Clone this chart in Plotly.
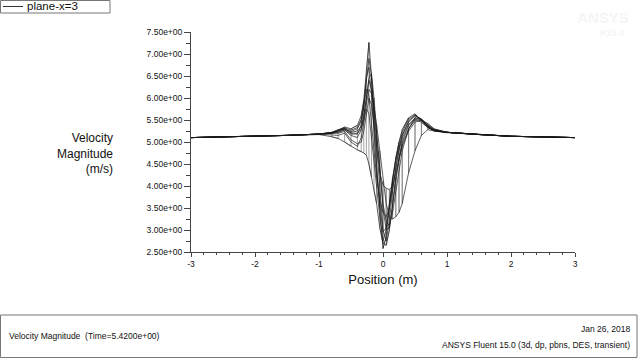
import plotly.graph_objects as go

# ---- data ----
POSITION = [-3, -2, -1.5, -1, -0.8, -0.7, -0.6, -0.5, -0.4, -0.34, -0.3, -0.26, -0.22,
            -0.18, -0.14, -0.1, -0.05, 0, 0.05, 0.1, 0.15, 0.2, 0.25, 0.3, 0.4, 0.5,
            0.6, 0.7, 0.8, 1.0, 1.5, 2, 3]

VEL_1 = [5.10, 5.13, 5.15, 5.18, 5.22, 5.27, 5.34, 5.30, 5.38, 5.60, 5.95, 6.60, 7.26,
         6.50, 5.40, 4.50, 3.50, 2.58, 2.85, 3.50, 4.10, 4.60, 5.00, 5.28, 5.55, 5.64,
         5.48, 5.33, 5.26, 5.22, 5.17, 5.13, 5.10]
VEL_2 = [5.10, 5.13, 5.15, 5.18, 5.21, 5.25, 5.30, 5.24, 5.30, 5.48, 5.80, 6.40, 6.90,
         6.50, 5.70, 4.90, 3.90, 3.00, 2.75, 3.20, 3.90, 4.45, 4.85, 5.15, 5.48, 5.60,
         5.52, 5.36, 5.27, 5.22, 5.17, 5.13, 5.10]
VEL_3 = [5.10, 5.13, 5.15, 5.18, 5.20, 5.22, 5.27, 5.15, 5.10, 5.28, 5.60, 6.05, 6.40,
         6.20, 5.70, 5.20, 4.40, 3.50, 3.00, 3.05, 3.55, 4.15, 4.65, 5.00, 5.38, 5.55,
         5.52, 5.40, 5.29, 5.22, 5.17, 5.13, 5.10]
VEL_4 = [5.10, 5.13, 5.15, 5.18, 5.19, 5.20, 5.24, 5.05, 4.96, 5.00, 5.25, 5.65, 6.00,
         5.85, 5.40, 4.90, 4.30, 4.02, 3.95, 3.92, 4.00, 4.30, 4.60, 4.90, 5.25, 5.45,
         5.50, 5.42, 5.30, 5.22, 5.17, 5.13, 5.10]
VEL_5 = [5.10, 5.13, 5.15, 5.18, 5.17, 5.15, 5.20, 5.00, 4.90, 5.10, 5.45, 5.75, 5.65,
         5.10, 4.50, 4.00, 3.30, 2.75, 3.00, 3.60, 4.20, 4.60, 4.90, 5.15, 5.45, 5.60,
         5.52, 5.36, 5.26, 5.22, 5.17, 5.13, 5.10]
VEL_6 = [5.10, 5.13, 5.15, 5.18, 5.22, 5.28, 5.31, 5.20, 5.20, 5.30, 5.50, 5.85, 6.20,
         6.10, 5.80, 5.40, 4.80, 4.10, 3.60, 3.30, 3.25, 3.30, 3.40, 3.60, 4.30, 4.80,
         5.15, 5.28, 5.25, 5.21, 5.17, 5.13, 5.10]
VEL_7 = [5.10, 5.13, 5.15, 5.17, 5.12, 5.08, 5.00, 4.90, 4.82, 4.78, 4.75, 4.70, 4.50,
         4.20, 3.90, 3.60, 3.05, 2.70, 2.65, 3.00, 3.60, 4.20, 4.60, 4.95, 5.30, 5.50,
         5.45, 5.33, 5.25, 5.22, 5.17, 5.13, 5.10]
VEL_8 = [5.10, 5.13, 5.15, 5.18, 5.21, 5.26, 5.32, 5.27, 5.33, 5.52, 5.88, 6.45, 6.70,
         6.10, 5.10, 4.30, 3.60, 2.95, 3.05, 3.60, 4.20, 4.65, 4.98, 5.22, 5.52, 5.62,
         5.50, 5.34, 5.26, 5.22, 5.17, 5.13, 5.10]
VEL_9 = [5.10, 5.13, 5.15, 5.18, 5.20, 5.23, 5.28, 5.18, 5.18, 5.40, 5.85, 6.20, 6.05,
         5.50, 4.80, 4.20, 3.70, 3.40, 3.30, 3.50, 3.95, 4.40, 4.80, 5.08, 5.40, 5.52,
         5.48, 5.38, 5.28, 5.22, 5.17, 5.13, 5.10]
VEL_10 = [5.10, 5.13, 5.15, 5.18, 5.21, 5.26, 5.30, 5.22, 5.25, 5.35, 5.60, 6.00, 6.45,
          6.55, 6.00, 5.20, 4.30, 3.60, 3.20, 3.10, 3.40, 3.90, 4.40, 4.80, 5.30, 5.55,
          5.50, 5.36, 5.27, 5.22, 5.17, 5.13, 5.10]

PROFILES = [VEL_1, VEL_8, VEL_2, VEL_10, VEL_3, VEL_6, VEL_9, VEL_4, VEL_5, VEL_7]

X_TICKS = [-3, -2, -1, 0, 1, 2, 3]
X_TICK_LABELS = ["-3", "-2", "-1", "0", "1", "2", "3"]
Y_TICKS = [2.5, 3.0, 3.5, 4.0, 4.5, 5.0, 5.5, 6.0, 6.5, 7.0, 7.5]
Y_TICK_LABELS = ["2.50e+00", "3.00e+00", "3.50e+00", "4.00e+00", "4.50e+00", "5.00e+00",
                 "5.50e+00", "6.00e+00", "6.50e+00", "7.00e+00", "7.50e+00"]

SERIES_NAME = "plane-x=3"

# ---- figure ----
W, H = 640, 360
L, R, T, B = 191, 65, 32, 108
PW, PH = W - L - R, H - T - B
FONT = "Liberation Sans, Arial"


def px(xp):
    return (xp - L) / PW


def py(yp):
    return (H - B - yp) / PH


fig = go.Figure()

# zig-zag line through the sampled points (face ordering look)
zx, zy = [], []
for i, xv in enumerate(POSITION):
    order = PROFILES if i % 2 == 0 else PROFILES[::-1]
    for p in order:
        zx.append(xv)
        zy.append(p[i])
fig.add_trace(go.Scatter(x=zx, y=zy, mode="lines", name=SERIES_NAME,
                         line=dict(color="#666666", width=0.6), showlegend=False,
                         hoverinfo="skip"))

for p in PROFILES:
    fig.add_trace(go.Scatter(x=POSITION, y=p, mode="lines", name=SERIES_NAME,
                             line=dict(color="#1a1a1a", width=0.7), showlegend=False))

axis_common = dict(showgrid=False, zeroline=False, showline=True, linecolor="#444444",
                   linewidth=1, ticks="outside", tickcolor="#444444",
                   tickfont=dict(family=FONT, size=8.5, color="#111"))

fig.update_xaxes(range=[-3, 3], tickvals=X_TICKS, ticktext=X_TICK_LABELS, ticklen=4,
                 minor=dict(ticks="outside", ticklen=2, dtick=0.2, tickcolor="#444444"),
                 title=dict(text="Position (m)", font=dict(family=FONT, size=13, color="#111"),
                            standoff=6),
                 **axis_common)
fig.update_yaxes(range=[2.5, 7.5], tickvals=Y_TICKS, ticktext=Y_TICK_LABELS, ticklen=6,
                 minor=dict(ticks="outside", ticklen=4, dtick=0.25, tickcolor="#444444"),
                 **axis_common)

anns = []
# y-axis title (right-aligned, three lines)
anns.append(dict(x=px(115), y=py(153), xref="paper", yref="paper",
                 text="Velocity<br>Magnitude<br>(m/s)", align="right",
                 showarrow=False, xanchor="right", yanchor="middle",
                 font=dict(family=FONT, size=12, color="#111")))
# legend text
anns.append(dict(x=px(25), y=py(6.5), xref="paper", yref="paper", text=SERIES_NAME,
                 showarrow=False, xanchor="left", yanchor="middle",
                 font=dict(family=FONT, size=11.5, color="#111")))
# footer texts
anns.append(dict(x=px(7), y=py(336), xref="paper", yref="paper",
                 text="Velocity Magnitude  (Time=5.4200e+00)", showarrow=False,
                 xanchor="left", yanchor="middle",
                 font=dict(family=FONT, size=8.5, color="#111")))
anns.append(dict(x=px(632), y=py(329), xref="paper", yref="paper", text="Jan 26, 2018",
                 showarrow=False, xanchor="right", yanchor="middle",
                 font=dict(family=FONT, size=8.5, color="#111")))
anns.append(dict(x=px(632), y=py(345), xref="paper", yref="paper",
                 text="ANSYS Fluent 15.0 (3d, dp, pbns, DES, transient)", showarrow=False,
                 xanchor="right", yanchor="middle",
                 font=dict(family=FONT, size=8.5, color="#111")))
# faint watermark
anns.append(dict(x=px(603), y=py(18), xref="paper", yref="paper", text="<b>ANSYS</b>",
                 showarrow=False, xanchor="center", yanchor="middle",
                 font=dict(family=FONT, size=15, color="#f5f5f5")))
anns.append(dict(x=px(612), y=py(33), xref="paper", yref="paper", text="<b>R15.0</b>",
                 showarrow=False, xanchor="center", yanchor="middle",
                 font=dict(family=FONT, size=9, color="#f5f5f5")))

shapes = [
    # legend box and sample line
    dict(type="rect", xref="paper", yref="paper", x0=px(0.5), x1=px(110), y0=py(0.5), y1=py(13),
         line=dict(color="#777777", width=1), fillcolor="white", layer="above"),
    dict(type="line", xref="paper", yref="paper", x0=px(3), x1=px(23), y0=py(6.5), y1=py(6.5),
         line=dict(color="#333333", width=1)),
    # footer box
    dict(type="rect", xref="paper", yref="paper", x0=px(0.5), x1=px(637), y0=py(315), y1=py(357.5),
         line=dict(color="#777777", width=1)),
]

fig.update_layout(width=W, height=H, margin=dict(l=L, r=R, t=T, b=B, autoexpand=False),
                  paper_bgcolor="white", plot_bgcolor="white", showlegend=False,
                  annotations=anns, shapes=shapes)

fig.write_html("out.html", config={"displayModeBar": False},
               post_script="document.body.style.margin='0';document.body.style.padding='0';")
